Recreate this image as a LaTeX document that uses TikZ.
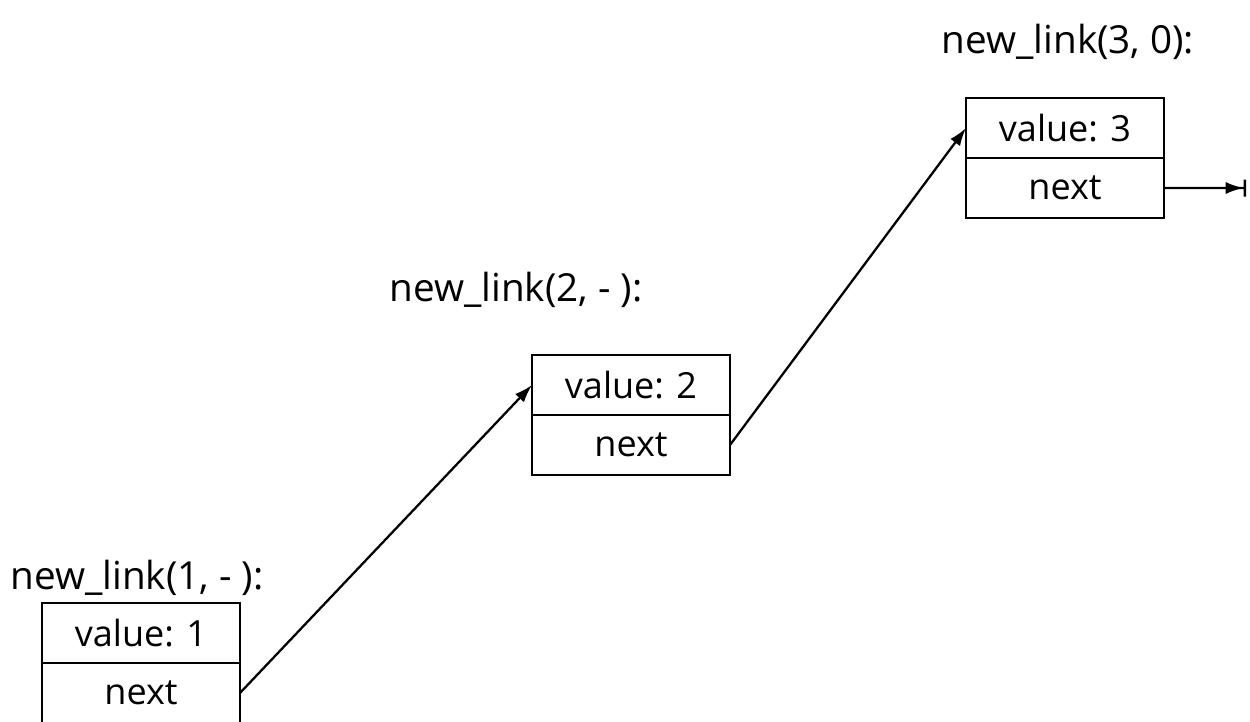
\documentclass[tikz,border=0pt]{standalone}
\usepackage{fontspec}
\setmainfont{Open Sans}
\usepackage{tikz}
\usetikzlibrary{arrows.meta,positioning}

\begin{document}
\begin{tikzpicture}[
  x=0.02cm, y=-0.02cm,
  font=\fontsize{20.5}{24}\selectfont,
  cell/.style={draw=black, line width=1.1pt, minimum width=3.96cm, minimum height=1.2cm, inner sep=0pt, outer sep=0pt},
  call/.style={font=\fontsize{22}{26}\selectfont, inner sep=0pt},
  arr/.style={-{Latex[length=0.36cm, width=0.24cm]}, line width=1.3pt},
  endarr/.style={-{Latex[length=0.36cm, width=0.24cm] Bar[width=0.34cm]}, line width=1.3pt}
]
\useasboundingbox (0,0) rectangle (1250,721);
% first link
\node[call] (c1) at (137,578) {new\_link(1, - ):};
\node[cell] (v1) at (141,633) {value: 1};
\node[cell, below=0pt of v1] (n1) {next};
% second link
\node[call] (c2) at (516,290) {new\_link(2, - ):};
\node[cell] (v2) at (631,385) {value: 2};
\node[cell, below=0pt of v2] (n2) {next};
% third link
\node[call] (c3) at (1068,42) {new\_link(3, 0):};
\node[cell] (v3) at (1065,128) {value: 3};
\node[cell, below=0pt of v3] (n3) {next};
\coordinate (e3) at (1246,188);
\draw[arr] (n1.east) -- (v2.west);
\draw[arr] (n2.east) -- (v3.west);
\draw[endarr] (n3.east) -- (e3);
\end{tikzpicture}
\end{document}
